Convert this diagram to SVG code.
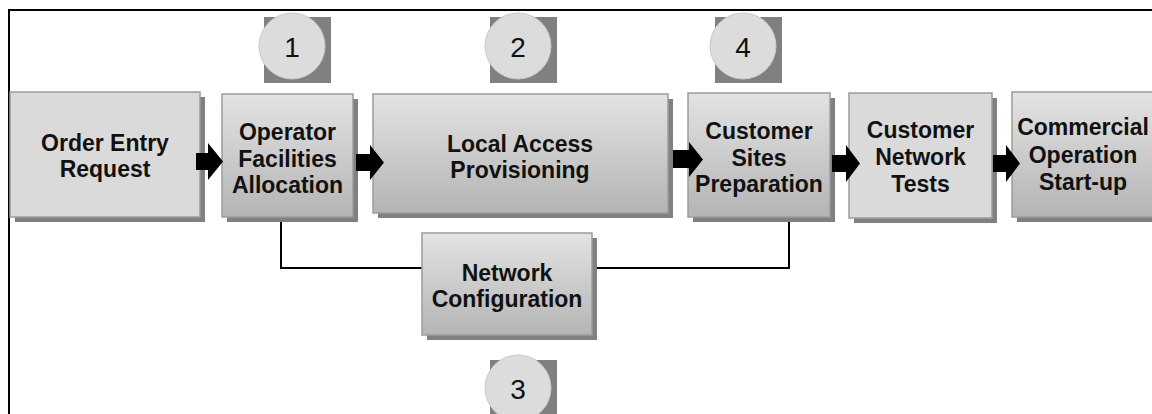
<svg xmlns="http://www.w3.org/2000/svg" width="1152" height="414" viewBox="0 0 1152 414">
  <defs>
    <linearGradient id="g" x1="0" y1="0" x2="0" y2="1">
      <stop offset="0" stop-color="#e3e3e3"/>
      <stop offset="1" stop-color="#b4b4b4"/>
    </linearGradient>
    <style>
      .shadow { fill: #808080; }
      .flat { fill: #dadada; stroke: #9c9c9c; stroke-width: 1.5; }
      .grad { fill: url(#g); stroke: #9c9c9c; stroke-width: 1.5; }
      .lbl { font-family: "Liberation Sans", Arial, sans-serif; font-weight: bold; font-size: 23px; fill: #111; text-anchor: middle; }
      .num { font-family: "Liberation Sans", Arial, sans-serif; font-size: 28px; fill: #111; text-anchor: middle; }
      .disc { fill: #dcdcdc; stroke: #c8c8c8; stroke-width: 1; }
      .line { fill: none; stroke: #000; stroke-width: 2; }
      .arrow { fill: #000; }
    </style>
  </defs>

  <rect x="9" y="10" width="1200" height="500" fill="#fff" stroke="#000" stroke-width="2"/>

  <g id="badge1">
    <rect class="shadow" x="264" y="17" width="67" height="66"/>
    <circle class="disc" cx="292" cy="46" r="33"/>
    <text class="num" x="292" y="57">1</text>
  </g>
  <g id="badge2">
    <rect class="shadow" x="490" y="17" width="67" height="66"/>
    <circle class="disc" cx="518" cy="46" r="33"/>
    <text class="num" x="518" y="57">2</text>
  </g>
  <g id="badge4">
    <rect class="shadow" x="715" y="17" width="67" height="66"/>
    <circle class="disc" cx="743" cy="46" r="33"/>
    <text class="num" x="743" y="57">4</text>
  </g>
  <g id="badge3">
    <rect class="shadow" x="490" y="360" width="67" height="66"/>
    <circle class="disc" cx="518" cy="388" r="33"/>
    <text class="num" x="518" y="399">3</text>
  </g>

  <g id="connectors-lines">
    <polyline class="line" points="281,222 281,268 422,268"/>
    <polyline class="line" points="592,268 789,268 789,222"/>
  </g>

  <g id="order-entry">
    <rect class="shadow" x="15" y="97" width="190" height="125"/>
    <rect class="flat" x="10" y="92" width="190" height="125"/>
    <text class="lbl" x="105" y="151">Order Entry</text>
    <text class="lbl" x="105" y="177">Request</text>
  </g>
  <g id="operator-facilities">
    <rect class="shadow" x="227" y="99" width="131" height="123"/>
    <rect class="grad" x="222" y="94" width="131" height="123"/>
    <text class="lbl" x="287.5" y="140">Operator</text>
    <text class="lbl" x="287.5" y="167">Facilities</text>
    <text class="lbl" x="287.5" y="193">Allocation</text>
  </g>
  <g id="local-access">
    <rect class="shadow" x="378" y="99" width="295" height="119"/>
    <rect class="grad" x="373" y="94" width="295" height="119"/>
    <text class="lbl" x="520" y="152">Local Access</text>
    <text class="lbl" x="520" y="178">Provisioning</text>
  </g>
  <g id="customer-sites">
    <rect class="shadow" x="693" y="98" width="142" height="124"/>
    <rect class="grad" x="688" y="93" width="142" height="124"/>
    <text class="lbl" x="759" y="139">Customer</text>
    <text class="lbl" x="759" y="166">Sites</text>
    <text class="lbl" x="759" y="192">Preparation</text>
  </g>
  <g id="customer-network-tests">
    <rect class="shadow" x="854" y="98" width="143" height="125"/>
    <rect class="flat" x="849" y="93" width="143" height="125"/>
    <text class="lbl" x="920.5" y="138">Customer</text>
    <text class="lbl" x="920.5" y="165">Network</text>
    <text class="lbl" x="920.5" y="192">Tests</text>
  </g>
  <g id="commercial-operation">
    <rect class="shadow" x="1017" y="97" width="145" height="125"/>
    <rect class="grad" x="1012" y="92" width="145" height="125"/>
    <text class="lbl" x="1083" y="135">Commercial</text>
    <text class="lbl" x="1083" y="163">Operation</text>
    <text class="lbl" x="1083" y="190">Start-up</text>
  </g>
  <g id="network-configuration">
    <rect class="shadow" x="427" y="238" width="170" height="102"/>
    <rect class="grad" x="422" y="233" width="170" height="102"/>
    <text class="lbl" x="507" y="281">Network</text>
    <text class="lbl" x="507" y="307">Configuration</text>
  </g>

  <g id="connectors-arrows">
    <path class="arrow" d="M196,153 H208 V143 L223,161.5 L208,180 V170 H196 Z"/>
    <path class="arrow" d="M356,154 H370 V145 L384,162.5 L370,180 V171 H356 Z"/>
    <path class="arrow" d="M673,150 H689 V142 L703,159.5 L689,177 V168 H673 Z"/>
    <path class="arrow" d="M832,155 H846 V145 L860,163.5 L846,182 V172 H832 Z"/>
    <path class="arrow" d="M993,155 H1006 V145 L1020,163.5 L1006,182 V172 H993 Z"/>
  </g>
</svg>
